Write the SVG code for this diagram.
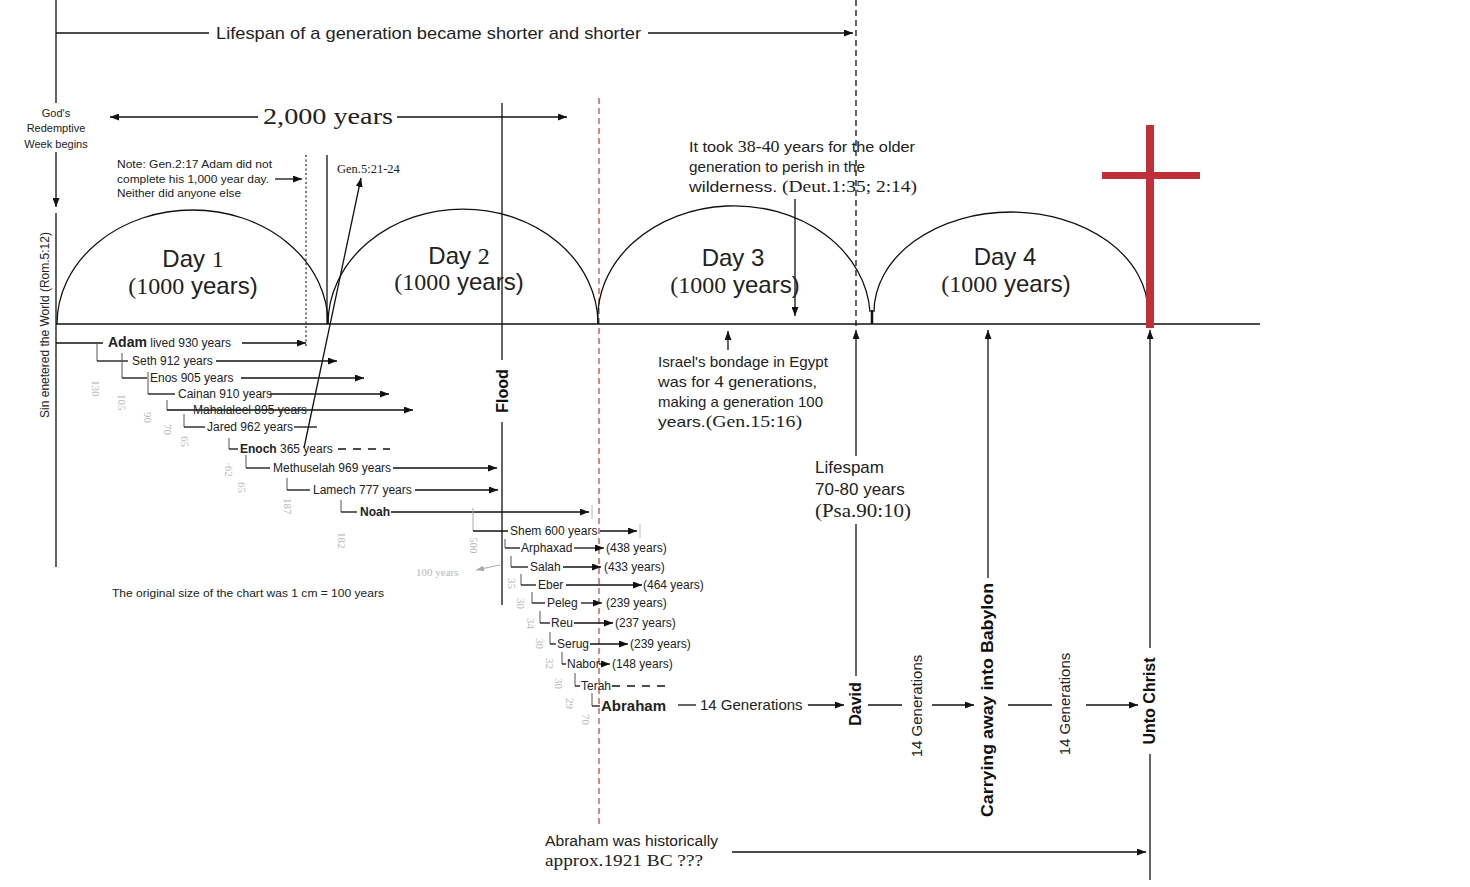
<svg xmlns="http://www.w3.org/2000/svg" width="1470" height="887" viewBox="0 0 1470 887">
<defs>
<marker id="ah" markerUnits="userSpaceOnUse" markerWidth="9" markerHeight="7" refX="9" refY="3.5" orient="auto"><path d="M0,0 L9,3.5 L0,7 z" fill="#111"/></marker>
<marker id="ahg" markerUnits="userSpaceOnUse" markerWidth="8" markerHeight="6" refX="8" refY="3" orient="auto"><path d="M0,0 L8,3 L0,6 z" fill="#aaa"/></marker>
</defs>
<style>
.ln{stroke:#111;stroke-width:1.3;fill:none}
.arc{stroke:#111;stroke-width:1.3;fill:none}
.ar{stroke:#111;stroke-width:1.3;fill:none;marker-end:url(#ah)}
.dash{stroke:#111;stroke-width:1.3;fill:none;stroke-dasharray:6,4}
.rdash{stroke:#c03a3a;stroke-width:1.2;fill:none;stroke-dasharray:6,4}
.sans{font-family:"Liberation Sans",Arial,sans-serif;fill:#222}
.ser{font-family:"Liberation Serif","Times New Roman",serif;fill:#222}
.day{font-size:24px}
.g{font-size:12px}
.gb{font-size:14px;font-weight:bold}
.gray{font-family:"Liberation Serif",serif;font-size:11px;fill:#b8b8b8}
.tick{stroke:#555;stroke-width:1;fill:none}
.rot{font-family:"Liberation Sans",Arial,sans-serif;font-weight:bold;fill:#111;font-size:16px}
</style>
<rect width="1470" height="887" fill="#fff"/>

<g id="connectors">
<line class="ln" x1="56" y1="0" x2="56" y2="103"/>
<line class="ar" x1="56" y1="152" x2="56" y2="207"/>
<line class="ln" x1="56" y1="213" x2="56" y2="567"/>
<line class="ln" x1="56" y1="33" x2="209" y2="33"/>
<line class="ar" x1="648" y1="33" x2="853" y2="33"/>
<line class="dash" x1="856" y1="0" x2="856" y2="326"/>
<line class="ar" x1="258" y1="117" x2="110" y2="117"/>
<line class="ar" x1="397" y1="117" x2="567" y2="117"/>
<line class="ln" x1="502" y1="103" x2="502" y2="360"/>
<line class="ln" x1="502" y1="422" x2="502" y2="605"/>
<line class="rdash" x1="599" y1="98" x2="599" y2="826"/>
<line class="ln" x1="56" y1="324" x2="1260" y2="324"/>
<line class="ar" x1="275" y1="179" x2="302" y2="179"/>
<line x1="306" y1="155" x2="306" y2="346" stroke="#333" stroke-width="1.3" stroke-dasharray="2,2.5"/>
<line class="ln" x1="327" y1="155" x2="327" y2="324"/>
<line class="ar" x1="304" y1="448" x2="361" y2="178"/>
<path class="arc" d="M57,324 A135.5,114 0 0 1 328,324"/>
<path class="arc" d="M328,324 A135,115 0 0 1 598,324"/>
<path class="arc" d="M598,324 A136,112 0 0 1 870,312"/>
<line x1="872" y1="310" x2="872" y2="324" stroke="#111" stroke-width="2.5"/>
<path class="arc" d="M874,312 A137,100 0 0 1 1148,312"/>
<line class="ar" x1="795" y1="199" x2="795" y2="316"/>
<line class="ar" x1="728" y1="350" x2="728" y2="331"/>
<line class="ar" x1="856" y1="456" x2="856" y2="330"/>
<line class="ln" x1="856" y1="524" x2="856" y2="676"/>
<line class="ar" x1="988" y1="578" x2="988" y2="330"/>
<line class="ar" x1="1150" y1="648" x2="1150" y2="330"/>
<line class="ln" x1="1150" y1="754" x2="1150" y2="880"/>
<line class="ln" x1="678" y1="705" x2="696" y2="705"/>
<line class="ar" x1="808" y1="705" x2="844" y2="705"/>
<line class="ln" x1="868" y1="705" x2="902" y2="705"/>
<line class="ar" x1="932" y1="705" x2="974" y2="705"/>
<line class="ln" x1="1008" y1="705" x2="1052" y2="705"/>
<line class="ar" x1="1086" y1="705" x2="1138" y2="705"/>
<line class="ar" x1="732" y1="852" x2="1146" y2="852"/>

<line class="ln" x1="56" y1="343" x2="103" y2="343"/>
<line class="ar" x1="242" y1="343" x2="306" y2="343"/>
<line class="tick" x1="97" y1="343" x2="97" y2="361"/>
<line class="ln" x1="97" y1="361" x2="128" y2="361"/>
<line class="ar" x1="216" y1="361" x2="337" y2="361"/>
<line class="tick" x1="122" y1="353" x2="122" y2="378"/>
<line class="ln" x1="122" y1="378" x2="147" y2="378"/>
<line class="ar" x1="241" y1="378" x2="364" y2="378"/>
<line class="tick" x1="148" y1="372" x2="148" y2="394"/>
<line class="ln" x1="148" y1="394" x2="175" y2="394"/>
<line class="ar" x1="270" y1="394" x2="389" y2="394"/>
<line class="tick" x1="167" y1="400" x2="167" y2="410"/>
<line class="ar" x1="167" y1="410" x2="413" y2="410"/>
<line class="tick" x1="184" y1="414" x2="184" y2="427"/>
<line class="ln" x1="184" y1="427" x2="205" y2="427"/>
<line class="ln" x1="294" y1="427" x2="317" y2="427"/>
<line class="tick" x1="229" y1="438" x2="229" y2="449"/>
<line class="ln" x1="229" y1="449" x2="238" y2="449"/>
<line class="ln" x1="338" y1="449" x2="390" y2="449" stroke-dasharray="8,7"/>
<line class="tick" x1="246" y1="455" x2="246" y2="468"/>
<line class="ln" x1="246" y1="468" x2="270" y2="468"/>
<line class="ar" x1="393" y1="468" x2="497" y2="468"/>
<line class="tick" x1="287" y1="478" x2="287" y2="490"/>
<line class="ln" x1="287" y1="490" x2="310" y2="490"/>
<line class="ar" x1="415" y1="490" x2="498" y2="490"/>
<line class="tick" x1="341" y1="500" x2="341" y2="512"/>
<line class="ln" x1="341" y1="512" x2="357" y2="512"/>
<line class="ar" x1="391" y1="512" x2="589" y2="512"/>
<line x1="592" y1="505" x2="592" y2="519" stroke="#bbb"/>
<line x1="473" y1="508" x2="473" y2="531" stroke="#aaa"/>
<line class="ln" x1="473" y1="531" x2="508" y2="531"/>
<line class="ar" x1="600" y1="531" x2="637" y2="531"/>
<line x1="640" y1="524" x2="640" y2="538" stroke="#bbb"/>
<line class="tick" x1="505" y1="539" x2="505" y2="548"/>
<line class="ln" x1="505" y1="548" x2="520" y2="548"/>
<line class="ar" x1="574" y1="548" x2="604" y2="548"/>
<line class="tick" x1="511" y1="556" x2="511" y2="567"/>
<line class="ln" x1="511" y1="567" x2="528" y2="567"/>
<line class="ar" x1="563" y1="567" x2="601" y2="567"/>
<line class="tick" x1="521" y1="574" x2="521" y2="585"/>
<line class="ln" x1="521" y1="585" x2="536" y2="585"/>
<line class="ar" x1="566" y1="585" x2="642" y2="585"/>
<line class="tick" x1="532" y1="592" x2="532" y2="603"/>
<line class="ln" x1="532" y1="603" x2="545" y2="603"/>
<line class="ar" x1="581" y1="603" x2="602" y2="603"/>
<line class="tick" x1="540" y1="611" x2="540" y2="623"/>
<line class="ln" x1="540" y1="623" x2="550" y2="623"/>
<line class="ar" x1="574" y1="623" x2="613" y2="623"/>
<line class="tick" x1="550" y1="632" x2="550" y2="644"/>
<line class="ln" x1="550" y1="644" x2="556" y2="644"/>
<line class="ar" x1="590" y1="644" x2="628" y2="644"/>
<line class="tick" x1="562" y1="652" x2="562" y2="664"/>
<line class="ln" x1="562" y1="664" x2="566" y2="664"/>
<line class="ar" x1="599" y1="664" x2="610" y2="664"/>
<line class="tick" x1="575" y1="673" x2="575" y2="686"/>
<line class="ln" x1="575" y1="686" x2="580" y2="686"/>
<line class="ln" x1="612" y1="686" x2="668" y2="686" stroke-dasharray="8,7"/>
<line class="tick" x1="592" y1="693" x2="592" y2="706"/>
<line class="ln" x1="592" y1="706" x2="600" y2="706"/>
<line x1="500" y1="565" x2="476" y2="570" stroke="#aaa" stroke-width="1" marker-end="url(#ahg)"/>
</g>

<g id="cross">
<rect x="1146" y="125" width="8" height="203" fill="#c0303a"/>
<rect x="1102" y="172" width="98" height="7" fill="#c0303a"/>
</g>

<g id="title"><text class="sans" x="216" y="39" font-size="17" textLength="425" lengthAdjust="spacingAndGlyphs">Lifespan of a generation became shorter and shorter</text></g>
<g id="two-thousand"><text class="ser" x="263" y="124" font-size="24" textLength="130" lengthAdjust="spacingAndGlyphs">2,000 years</text></g>
<g id="redemptive-week" class="sans" font-size="11" text-anchor="middle">
<text x="56" y="117">God's</text><text x="56" y="132">Redemptive</text><text x="56" y="148">Week begins</text>
</g>
<g id="sin"><text class="sans" font-size="12" text-anchor="middle" transform="translate(49,325) rotate(-90)">Sin enetered the World  (Rom.5:12)</text></g>
<g id="note" class="sans" font-size="11.5">
<text x="117" y="168" textLength="155" lengthAdjust="spacingAndGlyphs">Note: Gen.2:17 Adam did not</text>
<text x="117" y="183" textLength="152" lengthAdjust="spacingAndGlyphs">complete his 1,000 year day.</text>
<text x="117" y="197" textLength="124" lengthAdjust="spacingAndGlyphs">Neither did anyone else</text>
</g>
<g id="gen-ref"><text class="ser" x="337" y="173" font-size="12.5">Gen.5:21-24</text></g>

<g id="day1" text-anchor="middle"><text class="sans day" x="193" y="267">Day <tspan class="ser">1</tspan></text><text class="sans day" x="193" y="294"><tspan class="ser">(1000</tspan> years)</text></g>
<g id="day2" text-anchor="middle"><text class="sans day" x="459" y="264">Day <tspan class="ser">2</tspan></text><text class="sans day" x="459" y="290"><tspan class="ser">(1000</tspan> years)</text></g>
<g id="day3" text-anchor="middle"><text class="sans day" x="733" y="266">Day 3</text><text class="sans day" x="735" y="293"><tspan class="ser">(1000</tspan> years)</text></g>
<g id="day4" text-anchor="middle"><text class="sans day" x="1005" y="265">Day 4</text><text class="sans day" x="1006" y="292"><tspan class="ser">(1000</tspan> years)</text></g>

<g id="flood"><text class="rot" font-size="18" text-anchor="middle" transform="translate(508,391) rotate(-90)">Flood</text></g>

<g id="genealogy" class="sans g">
<text x="108" y="347"><tspan class="gb">Adam</tspan> <tspan font-size="12">lived 930 years</tspan></text>
<text x="132" y="365">Seth 912  years</text>
<text x="150" y="382">Enos 905 years</text>
<text x="178" y="398">Cainan 910 years</text>
<text x="193" y="414">Mahalaleel 895 years</text>
<text x="207" y="431">Jared 962 years</text>
<text x="240" y="453"><tspan font-weight="bold">Enoch</tspan> 365 years</text>
<text x="273" y="472">Methuselah 969 years</text>
<text x="313" y="494">Lamech 777 years</text>
<text x="360" y="516" font-weight="bold">Noah</text>
<text x="510" y="535">Shem 600 years</text>
<text x="521" y="552">Arphaxad</text>
<text x="606" y="552">(438 years)</text>
<text x="530" y="571">Salah</text>
<text x="604" y="571">(433 years)</text>
<text x="538" y="589">Eber</text>
<text x="643" y="589">(464 years)</text>
<text x="547" y="607">Peleg</text>
<text x="606" y="607">(239 years)</text>
<text x="551" y="627">Reu</text>
<text x="615" y="627">(237 years)</text>
<text x="557" y="648">Serug</text>
<text x="630" y="648">(239 years)</text>
<text x="567" y="668">Nabor</text>
<text x="612" y="668">(148 years)</text>
<text x="581" y="690">Terah</text>
<text x="601" y="711" font-size="15" font-weight="bold">Abraham</text>
<text x="700" y="710" font-size="15">14 Generations</text>
</g>

<g id="ages" class="gray">
<text transform="translate(92,380) rotate(90)">130</text>
<text transform="translate(118,394) rotate(90)">105</text>
<text transform="translate(144,412) rotate(90)">90</text>
<text transform="translate(164,424) rotate(90)">70</text>
<text transform="translate(181,436) rotate(90)">65</text>
<text transform="translate(225,462) rotate(90)">·62</text>
<text transform="translate(238,482) rotate(90)">65</text>
<text transform="translate(284,498) rotate(90)">187</text>
<text transform="translate(338,532) rotate(90)">182</text>
<text transform="translate(470,537) rotate(90)">500</text>
<text transform="translate(508,578) rotate(90)">35</text>
<text transform="translate(517,598) rotate(90)">30</text>
<text transform="translate(527,618) rotate(90)">34</text>
<text transform="translate(536,638) rotate(90)">30</text>
<text transform="translate(546,658) rotate(90)">32</text>
<text transform="translate(555,678) rotate(90)">30</text>
<text transform="translate(566,698) rotate(90)">29</text>
<text transform="translate(582,714) rotate(90)">70</text>
<text x="416" y="576">100 years</text>
</g>

<g id="chart-size"><text class="sans" x="112" y="597" font-size="11.5" textLength="272" lengthAdjust="spacingAndGlyphs">The original size of the chart was 1 cm = 100 years</text></g>

<g id="wilderness" class="sans" font-size="14.5">
<text x="689" y="152" textLength="226" lengthAdjust="spacingAndGlyphs">It took <tspan class="ser" font-size="16">38-40</tspan> years for the older</text>
<text x="689" y="172" textLength="176" lengthAdjust="spacingAndGlyphs">generation to perish in the</text>
<text x="689" y="192" textLength="228" lengthAdjust="spacingAndGlyphs">wilderness. <tspan class="ser" font-size="16">(Deut.1:35; 2:14)</tspan></text>
</g>
<g id="bondage" class="sans" font-size="15">
<text x="658" y="367" textLength="170" lengthAdjust="spacingAndGlyphs">Israel's bondage in Egypt</text>
<text x="658" y="387" textLength="159" lengthAdjust="spacingAndGlyphs">was for <tspan class="ser" font-size="17">4</tspan> generations,</text>
<text x="658" y="407" textLength="165" lengthAdjust="spacingAndGlyphs">making a generation 100</text>
<text x="658" y="427" textLength="144" lengthAdjust="spacingAndGlyphs">years.<tspan class="ser" font-size="17">(Gen.15:16)</tspan></text>
</g>
<g id="lifespam" class="sans" font-size="17">
<text x="815" y="473">Lifespam</text>
<text x="815" y="495">70-80 years</text>
<text x="815" y="517" class="ser" font-size="18" textLength="96" lengthAdjust="spacingAndGlyphs">(Psa.90:10)</text>
</g>

<g id="david"><text class="rot" text-anchor="middle" transform="translate(861,704) rotate(-90)">David</text></g>
<g id="gen14a"><text class="sans" font-size="15" text-anchor="middle" transform="translate(922,706) rotate(-90)">14 Generations</text></g>
<g id="babylon"><text class="rot" text-anchor="middle" textLength="234" lengthAdjust="spacingAndGlyphs" transform="translate(993,700) rotate(-90)">Carrying away into Babylon</text></g>
<g id="gen14b"><text class="sans" font-size="15" text-anchor="middle" transform="translate(1070,704) rotate(-90)">14 Generations</text></g>
<g id="christ"><text class="rot" text-anchor="middle" transform="translate(1155,701) rotate(-90)">Unto Christ</text></g>

<g id="abraham-date">
<text class="sans" x="545" y="846" font-size="15.5" textLength="173" lengthAdjust="spacingAndGlyphs">Abraham was historically</text>
<text class="ser" x="545" y="866" font-size="16" textLength="158" lengthAdjust="spacingAndGlyphs">approx.1921 BC ???</text>
</g>
</svg>
